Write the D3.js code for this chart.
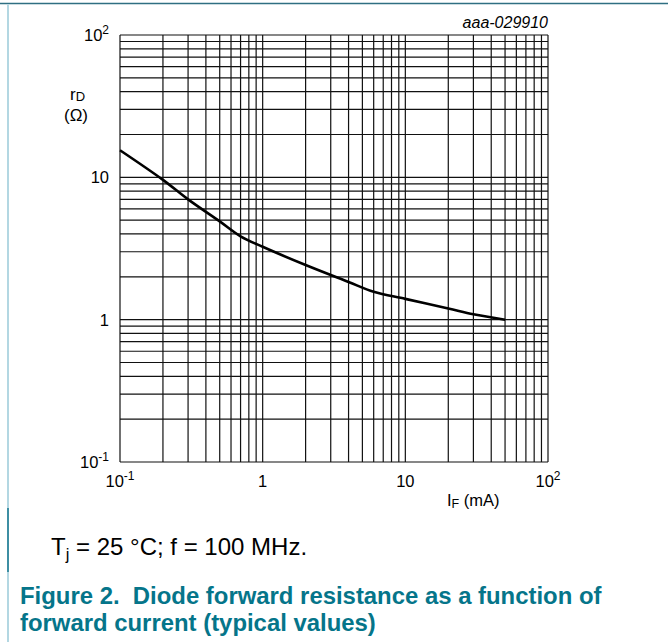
<!DOCTYPE html>
<html>
<head>
<meta charset="utf-8">
<script src="https://cdn.jsdelivr.net/npm/d3@7"></script>
<style>
  html, body { margin: 0; padding: 0; background: #fff; }
  svg { display: block; }
  text { font-family: "Liberation Sans", Arial, sans-serif; fill: #000; white-space: pre; }
</style>
</head>
<body>
<svg id="chart" width="668" height="642"></svg>
<script>
// ---- data ----
const currentIF = [0.1, 0.2, 0.3, 0.5, 0.7, 1, 2, 4, 6, 10, 20, 30, 50];        // mA
const resistanceRD = [15.5, 9.6, 7.0, 4.9, 3.85, 3.25, 2.42, 1.84, 1.57, 1.4, 1.2, 1.09, 1.0]; // ohm
const xTickValues = [0.1, 1, 10, 100];
const xTickBase = ["10", "1", "10", "10"];
const xTickExp = ["-1", "", "", "2"];
const yTickValues = [100, 10, 1, 0.1];
const yTickBase = ["10", "10", "1", "10"];
const yTickExp = ["2", "", "", "-1"];
const figureCode = "aaa-029910";
const conditionText = ["T", "j", " = 25 °C; f = 100 MHz."];
const captionLines = ["Figure 2.  Diode forward resistance as a function of", "forward current (typical values)"];

const svg = d3.select("#chart");
const teal = "#05758a";

// page frame
svg.append("line").attr("x1", 0).attr("x2", 668).attr("y1", 3.5).attr("y2", 3.5)
  .attr("stroke", "#2f6f82").attr("stroke-width", 1.5);
svg.append("line").attr("x1", 8).attr("x2", 8).attr("y1", 4.5).attr("y2", 642)
  .attr("stroke", "#b3d7e2").attr("stroke-width", 2);
svg.append("line").attr("x1", 8).attr("x2", 8).attr("y1", 508).attr("y2", 572)
  .attr("stroke", "#3d8ea3").attr("stroke-width", 2);

// scales
const x = d3.scaleLog().domain([0.1, 100]).range([120, 548]);
const y = d3.scaleLog().domain([0.1, 100]).range([462, 35]);

// grid values (1..9 per decade)
const gridVals = [];
[0.1, 1, 10].forEach(d => { for (let k = 1; k <= 9; k++) gridVals.push(+(d * k).toPrecision(3)); });
gridVals.push(100);

const grid = svg.append("g").attr("stroke", "#111").attr("stroke-width", 1.2);
grid.selectAll("line.v").data(gridVals).join("line").attr("class", "v")
  .attr("x1", d => x(d)).attr("x2", d => x(d)).attr("y1", y(100)).attr("y2", y(0.1));
grid.selectAll("line.h").data(gridVals).join("line").attr("class", "h")
  .attr("y1", d => y(d)).attr("y2", d => y(d)).attr("x1", x(0.1)).attr("x2", x(100));

// curve
const line = d3.line().x(d => x(d[0])).y(d => y(d[1])).curve(d3.curveCatmullRom.alpha(0.5));
svg.append("path").datum(currentIF.map((v, i) => [v, resistanceRD[i]]))
  .attr("d", line).attr("fill", "none").attr("stroke", "#000").attr("stroke-width", 2.6)
  .attr("stroke-linejoin", "round");

// y tick labels
yTickValues.forEach((v, i) => {
  const t = svg.append("text").attr("x", 109).attr("y", y(v)).attr("dy", "0.36em")
    .attr("text-anchor", "end").attr("font-size", 16.5);
  t.append("tspan").text(yTickBase[i]);
  if (yTickExp[i]) t.append("tspan").attr("font-size", 12).attr("dy", -7).text(yTickExp[i]);
});

// x tick labels
xTickValues.forEach((v, i) => {
  const t = svg.append("text").attr("x", x(v)).attr("y", 486.5)
    .attr("text-anchor", "middle").attr("font-size", 16.5);
  t.append("tspan").text(xTickBase[i]);
  if (xTickExp[i]) t.append("tspan").attr("font-size", 12).attr("dy", -7).text(xTickExp[i]);
});

// axis titles
const xt = svg.append("text").attr("x", 447).attr("y", 506).attr("font-size", 16.5);
xt.append("tspan").text("I");
xt.append("tspan").attr("font-size", 12.5).attr("dy", 2).text("F");
xt.append("tspan").attr("dy", -2).text(" (mA)");

const yt = svg.append("text").attr("x", 70).attr("y", 100).attr("font-size", 17);
yt.append("tspan").text("r");
yt.append("tspan").attr("font-size", 13).attr("dy", 1).text("D");
svg.append("text").attr("x", 64).attr("y", 120.5).attr("font-size", 17).text("(Ω)");

// figure code
svg.append("text").attr("x", 548).attr("y", 28).attr("text-anchor", "end")
  .attr("font-size", 16).attr("font-style", "italic").text(figureCode);

// condition line
const ct = svg.append("text").attr("x", 51).attr("y", 555).attr("font-size", 24);
ct.append("tspan").text(conditionText[0]);
ct.append("tspan").attr("font-size", 16.5).attr("dy", 5).text(conditionText[1]);
ct.append("tspan").attr("dy", -5).text(conditionText[2]);

// caption
captionLines.forEach((s, i) => {
  svg.append("text").attr("x", 20).attr("y", 604 + i * 27)
    .attr("font-size", 23.9).attr("font-weight", "bold").style("fill", teal).text(s);
});
</script>
</body>
</html>
